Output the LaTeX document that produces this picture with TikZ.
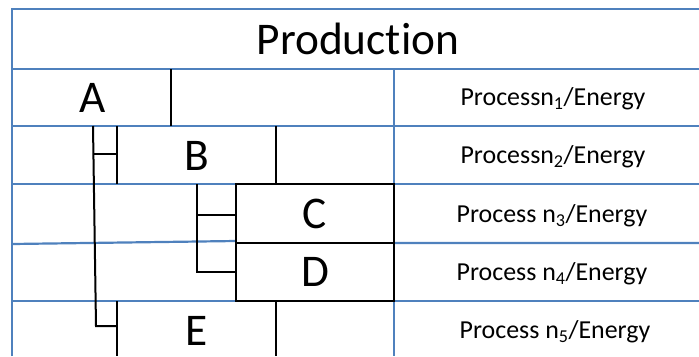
\documentclass[tikz,border=0pt]{standalone}
\usepackage{fontspec}
\setmainfont{Carlito}[Ligatures=NoCommon]
\usepackage{tikz}
\usetikzlibrary{positioning}
\definecolor{gridblue}{RGB}{79,129,189}

\begin{document}
\begin{tikzpicture}[
  x=1bp, y=-1bp,
  grid/.style={draw=gridblue, line width=2.2bp},
  tree/.style={draw=black, line width=2bp},
  big/.style={font=\fontsize{45.5}{50}\selectfont, inner sep=0pt},
  proc/.style={font=\fontsize{26}{30}\selectfont, inner sep=0pt},
  leaf/.style={tree, minimum width=158bp, minimum height=58.5bp, inner sep=0pt,
    font=\fontsize{45.5}{50}\selectfont}
]
\useasboundingbox (0,0) rectangle (699,356);

% Table grid
\draw[grid] (12,356) -- (12,9) -- (699,9);
\draw[grid] (12,69) -- (699,69);
\draw[grid] (12,126) -- (699,126);
\draw[grid] (12,184) -- (236,184) (394,184) -- (699,184);
\draw[grid] (12,244) -- (236,241) (394,243) -- (699,243);
\draw[grid] (12,301) -- (236,301) (394,301) -- (699,301);
\draw[grid] (394,69) -- (394,356);

% Title
\node[big] (prod) at (358,39) {Production};

% Tree labels
\node[big] (A) at (93,98) {A};
\node[big] (B) at (197,156) {B};
\node[big] (E) at (197,331) {E};
\node[leaf] (C) at (315,213.5) {C};
\node[leaf] (D) at (315,272) {D};

% Processes
\node[proc] (p1) at (553,99) {Processn\textsubscript{1}/Energy};
\node[proc] (p2) at (553,157) {Processn\textsubscript{2}/Energy};
\node[proc] (p3) at (552,216) {Process n\textsubscript{3}/Energy};
\node[proc] (p4) at (552,274) {Process n\textsubscript{4}/Energy};
\node[proc] (p5) at (555,332) {Process n\textsubscript{5}/Energy};

% Cell edges
\draw[tree] (171,69) -- (171,126);
\draw[tree] (117,126) -- (117,184);
\draw[tree] (276,126) -- (276,184);
\draw[tree] (117,301) -- (117,356);
\draw[tree] (276,301) -- (276,356);

% Brackets
\coordinate (a0) at (93,126);
\coordinate (e0) at (96,326);
\draw[tree] (a0) -- (e0) -- (117,326);
\draw[tree] (93,154) -- (117,154);
\draw[tree] (197,184) |- (D.west);
\draw[tree] (197,215) -- (236,215);
\end{tikzpicture}
\end{document}
